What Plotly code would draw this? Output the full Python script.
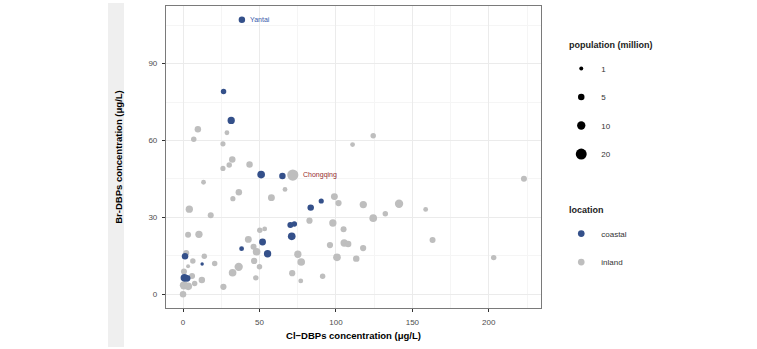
import plotly.graph_objects as go
import numpy as np

# ---- data ----
coastal_x = [38.5, 26.5, 31.5, 51.1, 65.0, 90.4, 83.5, 70.2, 72.8, 71.1, 52.0, 38.3, 55.3, 1.3, 12.5, 0.9, 2.6]
coastal_y = [107.1, 79.1, 67.8, 46.7, 46.1, 36.4, 33.8, 27.0, 27.4, 22.6, 20.4, 17.8, 15.8, 14.8, 11.8, 6.4, 6.2]
coastal_pop = [5, 3, 7, 8, 5, 2.5, 5, 4, 3, 8, 6, 2, 7, 5, 0.5, 8, 6]

inland_x = [71.8, 9.7, 7.0, 28.7, 26.1, 110.9, 124.4, 32.2, 43.5, 26.1, 30.2, 13.4, 66.7, 36.5, 32.6,
            57.8, 4.1, 18.1, 99.0, 101.7, 117.9, 141.3, 132.3, 124.4, 82.7, 98.0, 50.2, 53.4, 105.0,
            3.3, 10.4, 42.7, 96.1, 105.4, 108.0, 46.1, 48.1, 75.1, 2.1, 13.9, 20.7, 77.3, 100.7,
            113.3, 117.8, 6.4, 3.3, 46.5, 50.0, 36.4, 32.4, 47.6, 71.4, 77.0, 91.3, 12.3, 7.6, 5.9,
            0.6, 0.6, 3.4, 0.0, 26.4, 158.7, 163.2, 203.2, 223.0]
inland_y = [46.5, 64.4, 60.5, 63.0, 58.7, 58.4, 61.8, 52.6, 50.6, 49.1, 50.4, 43.7, 40.9, 39.8, 37.3,
            37.7, 33.2, 30.8, 38.1, 35.6, 35.0, 35.3, 31.4, 29.7, 28.7, 27.8, 25.0, 25.5, 25.4,
            23.2, 23.4, 21.4, 19.2, 20.0, 19.6, 18.5, 16.6, 15.6, 16.1, 14.8, 12.0, 12.6, 14.4,
            13.9, 18.0, 13.0, 10.9, 13.0, 10.7, 10.7, 8.4, 6.4, 8.2, 5.2, 7.0, 5.6, 4.2, 7.1,
            8.9, 3.5, 3.1, 0.0, 2.9, 33.1, 21.2, 14.3, 45.1]
inland_pop = [21, 5, 3, 2, 2.5, 2, 3, 5, 5, 2.5, 3, 2, 2, 5, 2.5,
              6, 7, 4, 6, 4.5, 7, 10, 3, 8, 4.5, 7, 3, 2, 4,
              4, 7, 6, 4.5, 7, 5, 4, 8, 7, 4, 3, 3, 8, 8,
              5, 4.5, 3, 1, 4.5, 3, 10, 8, 3, 4.5, 2, 3, 5, 3, 4,
              4, 10, 8, 5, 4.5, 2, 4, 3, 4]

label_names = ["Yantai", "Chongqing"]
label_groups = ["coastal", "inland"]
label_index = [0, 0]

legend_pops = [1, 5, 10, 20]
locations = ["coastal", "inland"]
legend_titles = ["population (million)", "location"]
x_ticks = [0, 50, 100, 150, 200]
y_ticks = [0, 30, 60, 90]

# ---- styles ----
COL = {"coastal": "#34508a", "inland": "#bebebe"}
LABEL_COL = {"coastal": "#3a5bab", "inland": "#962a2e"}
FONT = "Liberation Sans, Arial, sans-serif"


def diam(p):
    return 2 + 2 * np.sqrt(np.asarray(p, dtype=float))


data = {
    "coastal": (coastal_x, coastal_y, coastal_pop),
    "inland": (inland_x, inland_y, inland_pop),
}

fig = go.Figure()

# data points: inland below, coastal on top
for loc in ["inland", "coastal"]:
    xs, ys, ps = data[loc]
    fig.add_trace(go.Scatter(
        x=xs, y=ys, mode="markers", showlegend=False,
        marker=dict(color=COL[loc], size=diam(ps), line=dict(width=0), opacity=1),
        hoverinfo="x+y",
    ))

# population size legend
for i, p in enumerate(legend_pops):
    fig.add_trace(go.Scatter(
        x=[None], y=[None], mode="markers", name=str(p), legend="legend",
        legendgroup=f"pop{i}",
        marker=dict(color="black", size=float(diam(p))),
    ))

# location legend
for i, loc in enumerate(locations):
    fig.add_trace(go.Scatter(
        x=[None], y=[None], mode="markers", name=loc, legend="legend2",
        legendgroup=f"loc{i}",
        marker=dict(color=COL[loc], size=6.7),
    ))

# city labels
for name, grp, idx in zip(label_names, label_groups, label_index):
    xs, ys, ps = data[grp]
    fig.add_annotation(
        x=xs[idx], y=ys[idx], text=name, showarrow=False,
        xanchor="left", yanchor="middle", xshift=float(diam(ps[idx])) / 2 + 3,
        font=dict(family=FONT, size=7, color=LABEL_COL[grp]),
    )

# legend titles
for title, ypos in zip(legend_titles, [0.872, 0.325]):
    fig.add_annotation(
        xref="paper", yref="paper", x=1.069, y=ypos, text=f"<b>{title}</b>",
        showarrow=False, xanchor="left", yanchor="middle",
        font=dict(family=FONT, size=9, color="#222222"),
    )

# light grey strip on the left
fig.add_shape(type="rect", xref="paper", yref="paper",
              x0=-0.1547, x1=-0.112, y0=-0.129, y1=1.01,
              fillcolor="#efefef", line=dict(width=0), layer="below")

axis_common = dict(
    showgrid=True, gridcolor="#ebebeb", gridwidth=1,
    zeroline=False,
    showline=True, linecolor="#7a7a7a", linewidth=1.2, mirror=True,
    ticks="outside", ticklen=3, tickcolor="#333333", tickwidth=1,
    tickfont=dict(family=FONT, size=8, color="#4d4d4d"),
    ticklabelstandoff=3,
)

fig.update_layout(
    width=757, height=349,
    margin=dict(l=166, r=216, t=6, b=41),
    paper_bgcolor="white", plot_bgcolor="white",
    font=dict(family=FONT, size=8, color="#333333"),
    xaxis=dict(
        range=[-11.15, 234.15], tickvals=x_ticks,
        minor=dict(tickvals=[25, 75, 125, 175, 225], showgrid=True, gridcolor="#f5f5f5", ticks=""),
        title=dict(text="<b>Cl−DBPs concentration (μg/L)</b>", standoff=6,
                   font=dict(family=FONT, size=9.5, color="black")),
        **axis_common,
    ),
    yaxis=dict(
        range=[-5.36, 112.46], tickvals=y_ticks,
        minor=dict(tickvals=[15, 45, 75, 105], showgrid=True, gridcolor="#f5f5f5", ticks=""),
        title=dict(text="<b>Br-DBPs concentration (μg/L)</b>", standoff=24,
                   font=dict(family=FONT, size=9.5, color="black")),
        **axis_common,
    ),
    legend=dict(
        x=1.054, y=0.841, xanchor="left", yanchor="top",
        font=dict(family=FONT, size=8, color="#333333"),
        itemsizing="trace", tracegroupgap=9.5, bgcolor="rgba(0,0,0,0)",
    ),
    legend2=dict(
        x=1.054, y=0.2945, xanchor="left", yanchor="top",
        font=dict(family=FONT, size=8, color="#333333"),
        itemsizing="trace", tracegroupgap=9.5, bgcolor="rgba(0,0,0,0)",
    ),
    showlegend=True,
)

fig.write_html("out.html")
